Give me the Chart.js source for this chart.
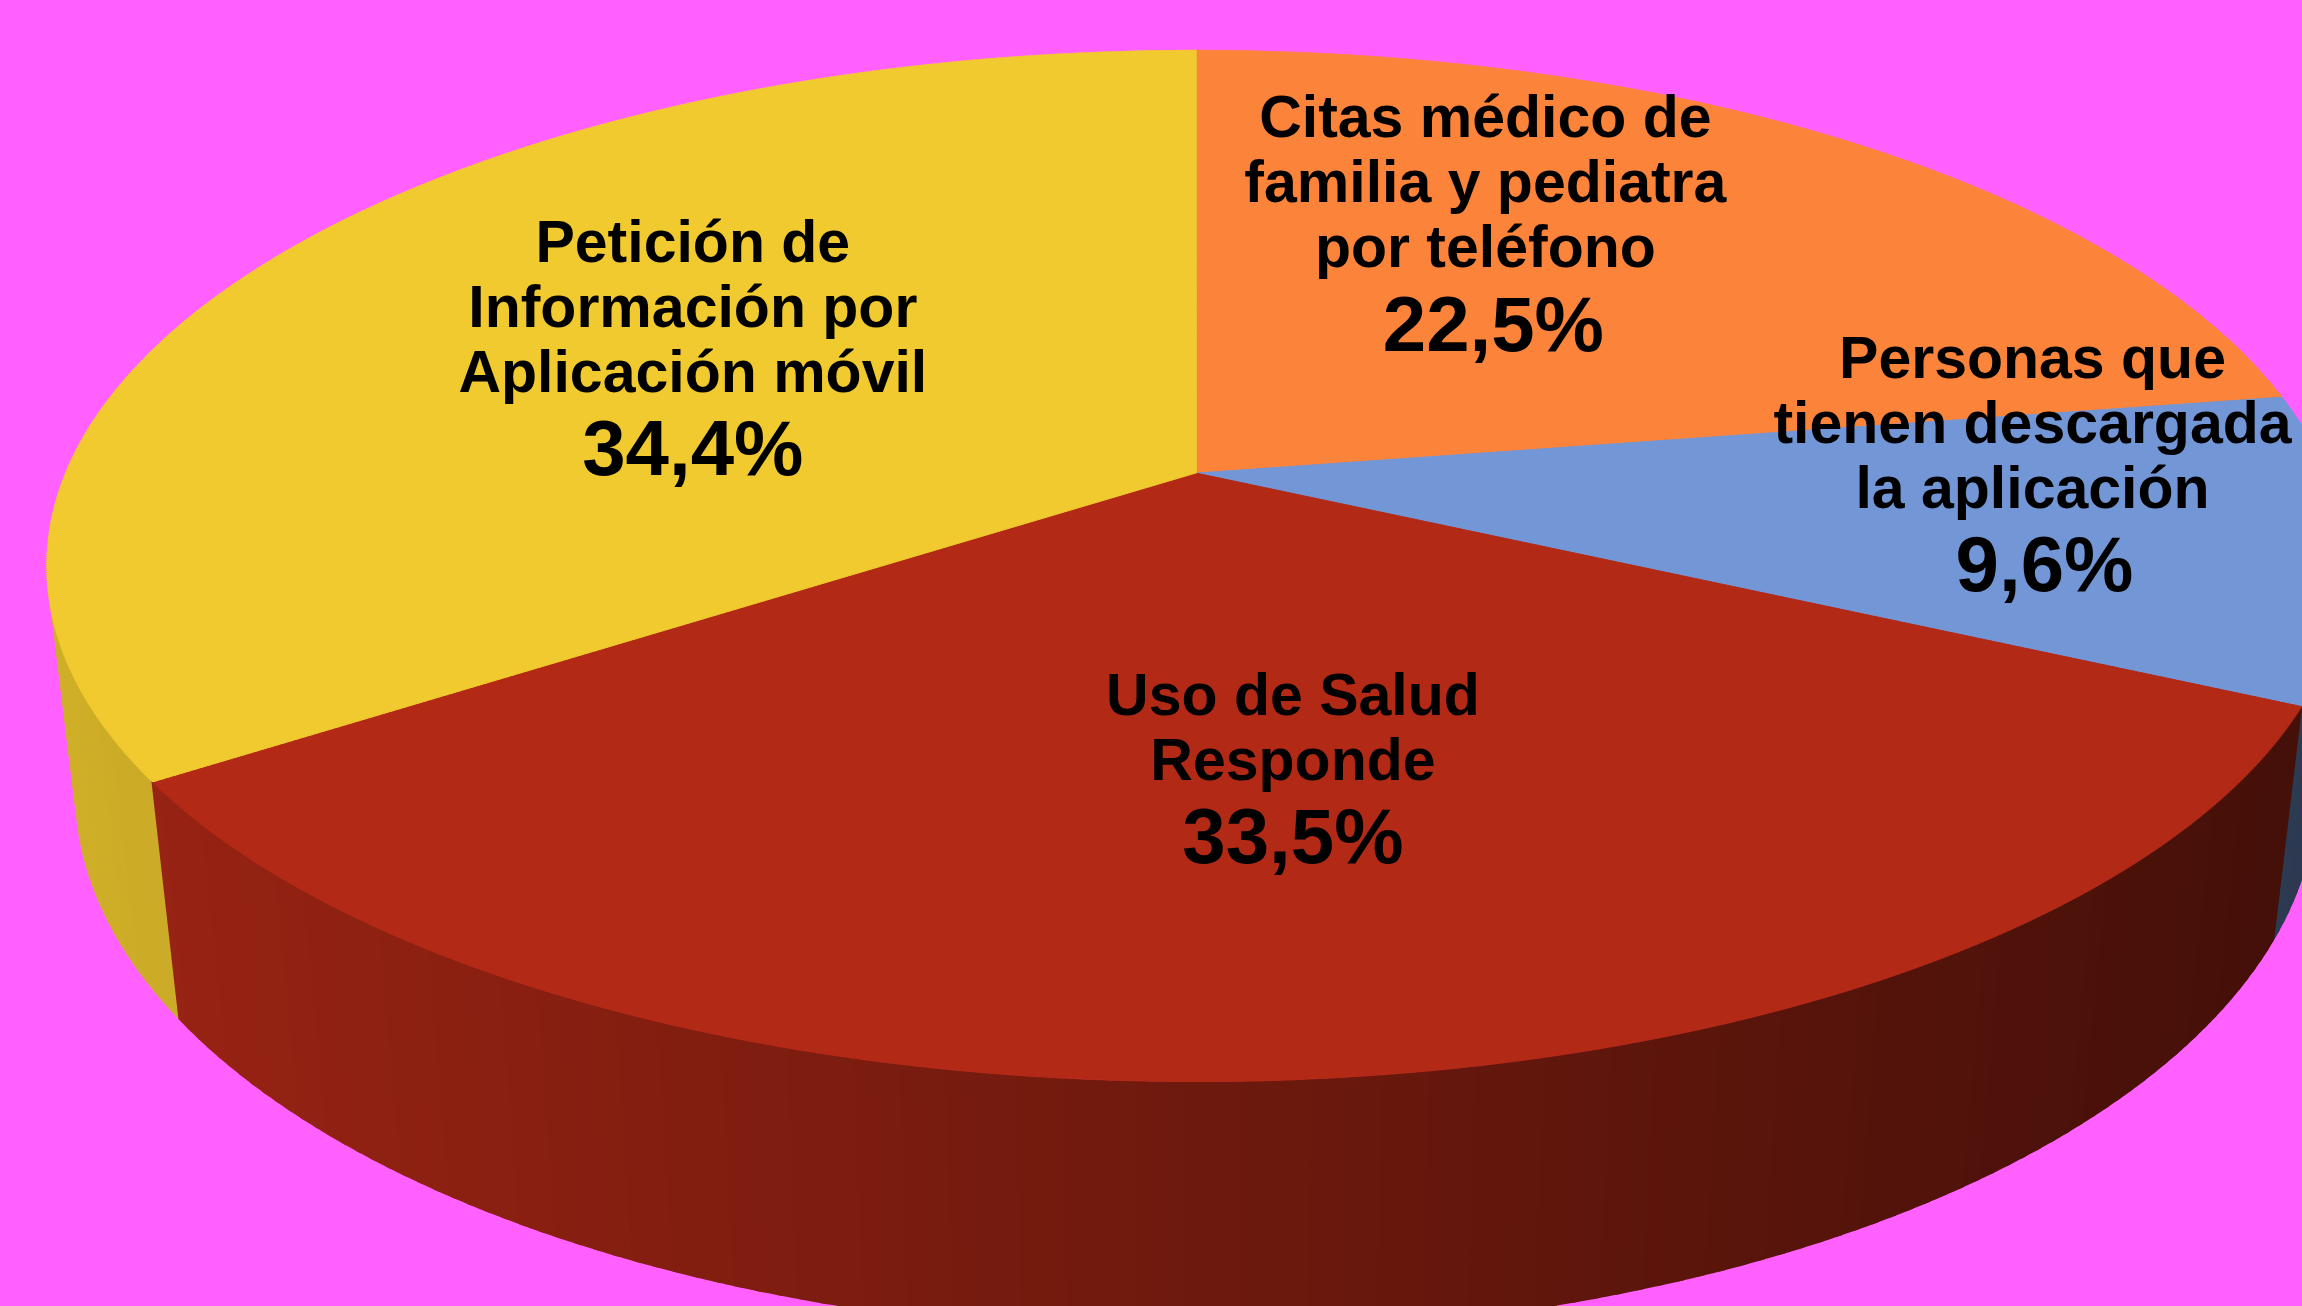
<!DOCTYPE html>
<html><head><meta charset="utf-8">
<script src="https://cdn.jsdelivr.net/npm/chart.js@4.4.1/dist/chart.umd.min.js"></script>
<style>html,body{margin:0;padding:0;background:#FF60FF;overflow:hidden}canvas{display:block}</style>
</head><body>
<canvas id="c" width="2302" height="1306" style="width:2302px;height:1306px"></canvas>
<script>
// ---- data ----
const categories = [
  ['Citas médico de', 'familia y pediatra', 'por teléfono'],
  ['Personas que', 'tienen descargada', 'la aplicación'],
  ['Uso de Salud', 'Responde'],
  ['Petición de', 'Información por', 'Aplicación móvil']
];
const values = [22.5, 9.6, 33.5, 34.4];
const colors = ['#FC843A', '#7397D6', '#B22916', '#F0CA2E'];
const pctLabels = values.map(v => v.toFixed(1).replace('.', ',') + '%');

// ---- 3D view (perspective of the pie plane) ----
const VIEW = { cx: 1196, cy: 473, A: 1130, B: 499, k: -0.18, m: 0.024, H: 228 };
function project(u, v, s) {
  const w = 1 + VIEW.k * v + VIEW.m * s;
  return [VIEW.cx + VIEW.A * u / w, VIEW.cy + (VIEW.B * v + VIEW.H * s) / w];
}
function shade(hex, f) {
  const n = parseInt(hex.slice(1), 16);
  const r = Math.round(((n >> 16) & 255) * f), g = Math.round(((n >> 8) & 255) * f), b = Math.round((n & 255) * f);
  return `rgb(${r},${g},${b})`;
}

const pie3d = {
  id: 'pie3d',
  beforeDraw(chart) {
    const ctx = chart.ctx;
    ctx.save();
    ctx.fillStyle = '#FF60FF';
    ctx.fillRect(0, 0, chart.width, chart.height);
    ctx.restore();
  },
  beforeDatasetsDraw(chart) {
    const ctx = chart.ctx;
    const arcs = chart.getDatasetMeta(0).data;
    const ax = arcs[0].x, ay = arcs[0].y, R = arcs[0].outerRadius;
    // --- side walls ---
    const pieces = [];
    arcs.forEach(arc => {
      const s = arc.startAngle, e = arc.endAngle;
      const n = Math.max(1, Math.ceil((e - s) / (Math.PI / 180)));
      for (let j = 0; j < n; j++) {
        const t1 = s + (e - s) * j / n, t2 = s + (e - s) * (j + 1) / n;
        pieces.push({ t1, t2, col: arc.options.backgroundColor, vm: Math.sin((t1 + t2) / 2) });
      }
    });
    pieces.sort((p, q) => p.vm - q.vm);
    ctx.save();
    for (const p of pieces) {
      if (p.vm < -0.35) continue;
      const a1 = p.t1 - 0.003, a2 = p.t2 + 0.003;
      ctx.beginPath();
      for (let q = 0; q <= 4; q++) {
        const t = a1 + (a2 - a1) * q / 4;
        const [x, y] = project(Math.cos(t), Math.sin(t), 0);
        q ? ctx.lineTo(x, y) : ctx.moveTo(x, y);
      }
      for (let q = 4; q >= 0; q--) {
        const t = a1 + (a2 - a1) * q / 4;
        const [x, y] = project(Math.cos(t), Math.sin(t), 1);
        ctx.lineTo(x, y);
      }
      ctx.closePath();
      const tm = (p.t1 + p.t2) / 2;
      const [xm] = project(Math.cos(tm), Math.sin(tm), 0.5);
      const f = 0.87 - 0.49 * Math.min(1, Math.max(0, (xm - 47) / 2255));
      ctx.fillStyle = shade(p.col, f);
      ctx.fill();
    }
    ctx.restore();
    // --- top face: draw the library's arcs through a perspective warp, strip by strip ---
    const yStart = Math.floor(VIEW.cy - VIEW.B / (1 - VIEW.k)) - 2;
    const yEnd = Math.ceil(VIEW.cy + VIEW.B / (1 + VIEW.k)) + 2;
    const h = 2;
    for (let y = yStart; y < yEnd; y += h) {
      const yc = y + h / 2;
      const t = yc - VIEW.cy;
      const v0 = t / (VIEW.B - VIEW.k * t);
      const w0 = 1 + VIEW.k * v0;
      const Yp = VIEW.B / (w0 * w0);
      const a = VIEW.A / (w0 * R);
      const d = Yp / R;
      const e = VIEW.cx - a * ax;
      const f = yc - Yp * v0 - d * ay;
      ctx.save();
      ctx.beginPath();
      ctx.rect(0, y, chart.width, h);
      ctx.clip();
      ctx.setTransform(a, 0, 0, d, e, f);
      arcs.forEach(arc => arc.draw(ctx));
      ctx.restore();
    }
    return false;
  },
  afterDraw(chart, args, opts) {
    const ctx = chart.ctx;
    const arcs = chart.getDatasetMeta(0).data;
    const labels = chart.data.labels;
    ctx.save();
    ctx.fillStyle = '#000';
    ctx.textAlign = 'center';
    ctx.textBaseline = 'middle';
    arcs.forEach((arc, i) => {
      const mid = (arc.startAngle + arc.endAngle) / 2 + opts.shiftDeg[i] * Math.PI / 180;
      const r = opts.radius[i];
      const [x, y0] = project(r * Math.cos(mid), r * Math.sin(mid), 0);
      const y = y0 + opts.dy;
      const lines = labels[i];
      const total = opts.lineGap * (lines.length - 1) + opts.pctGap;
      let yy = y - total / 2;
      ctx.font = `bold ${opts.nameSize}px "Liberation Sans", Arial, sans-serif`;
      lines.forEach((ln, j) => ctx.fillText(ln, x, yy + j * opts.lineGap));
      ctx.font = `bold ${opts.pctSize}px "Liberation Sans", Arial, sans-serif`;
      ctx.fillText(pctLabels[i], x + opts.pctDx[i], yy + total);
    });
    ctx.restore();
  }
};

new Chart(document.getElementById('c'), {
  type: 'pie',
  data: {
    labels: categories,
    datasets: [{ data: values, backgroundColor: colors, borderColor: colors, borderWidth: 1 }]
  },
  options: {
    responsive: false,
    animation: false,
    devicePixelRatio: 1,
    layout: { padding: 0 },
    events: [],
    plugins: {
      legend: { display: false },
      tooltip: { enabled: false },
      pie3d: {
        radius: [0.625, 0.744, 0.535, 0.539],
        shiftDeg: [-13.7, -10.2, -4.2, 1.9],
        pctDx: [8, 12, 0, 0],
        dy: 5,
        nameSize: 59, pctSize: 78, lineGap: 65, pctGap: 78
      }
    }
  },
  plugins: [pie3d]
});
</script>
</body></html>
